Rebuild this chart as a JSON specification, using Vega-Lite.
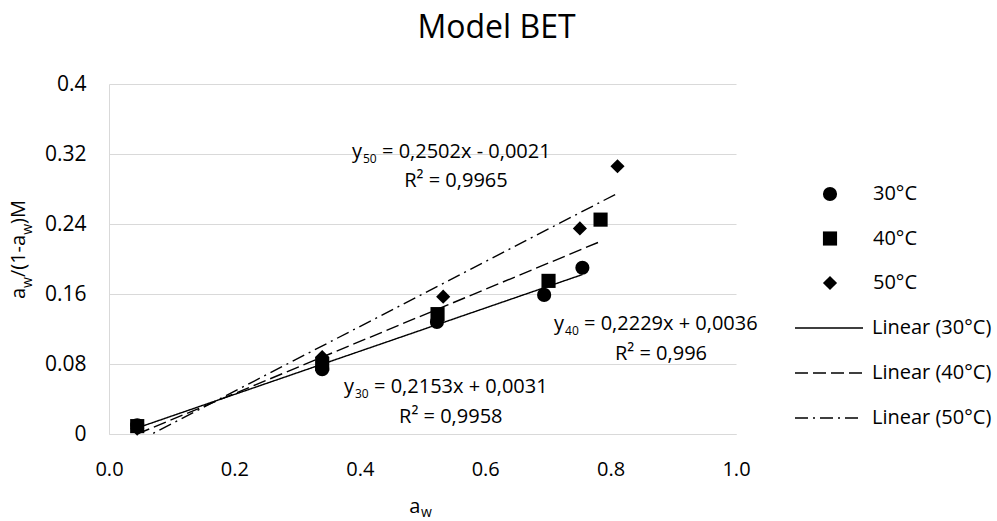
{
  "$schema": "https://vega.github.io/schema/vega-lite/v6.json",
  "width": 627,
  "height": 350,
  "autosize": {"type": "none"},
  "padding": {"left": 109, "top": 84, "right": 261, "bottom": 87},
  "background": "white",
  "config": {
    "font": "Open Sans",
    "view": {"stroke": null},
    "text": {"font": "Open Sans", "fontSize": 20, "color": "black", "align": "left", "baseline": "alphabetic"}
  },
  "title": {
    "text": "Model BET",
    "font": "Open Sans",
    "fontSize": 32,
    "fontWeight": "normal",
    "color": "black",
    "anchor": "middle",
    "baseline": "alphabetic",
    "dx": 74,
    "offset": 3
  },
  "datasets": {
    "sorption": [
      {"series": "30°C", "fit": "Linear (30°C)", "aw": 0.045, "ratio": 0.010},
      {"series": "30°C", "fit": "Linear (30°C)", "aw": 0.340, "ratio": 0.074},
      {"series": "30°C", "fit": "Linear (30°C)", "aw": 0.523, "ratio": 0.128},
      {"series": "30°C", "fit": "Linear (30°C)", "aw": 0.694, "ratio": 0.159},
      {"series": "30°C", "fit": "Linear (30°C)", "aw": 0.755, "ratio": 0.190},
      {"series": "40°C", "fit": "Linear (40°C)", "aw": 0.045, "ratio": 0.009},
      {"series": "40°C", "fit": "Linear (40°C)", "aw": 0.340, "ratio": 0.080},
      {"series": "40°C", "fit": "Linear (40°C)", "aw": 0.524, "ratio": 0.137},
      {"series": "40°C", "fit": "Linear (40°C)", "aw": 0.701, "ratio": 0.175},
      {"series": "40°C", "fit": "Linear (40°C)", "aw": 0.784, "ratio": 0.245},
      {"series": "50°C", "fit": "Linear (50°C)", "aw": 0.045, "ratio": 0.006},
      {"series": "50°C", "fit": "Linear (50°C)", "aw": 0.340, "ratio": 0.088},
      {"series": "50°C", "fit": "Linear (50°C)", "aw": 0.533, "ratio": 0.157},
      {"series": "50°C", "fit": "Linear (50°C)", "aw": 0.751, "ratio": 0.235},
      {"series": "50°C", "fit": "Linear (50°C)", "aw": 0.811, "ratio": 0.306}
    ]
  },
  "layer": [
    {
      "data": {"name": "sorption"},
      "transform": [{"regression": "ratio", "on": "aw", "groupby": ["fit"]}],
      "mark": {"type": "line", "color": "black", "strokeWidth": 1.4, "clip": true},
      "encoding": {
        "x": {
          "field": "aw", "type": "quantitative",
          "scale": {"domain": [0, 1], "nice": false},
          "axis": {
            "title": null, "values": [0, 0.2, 0.4, 0.6, 0.8, 1], "format": ".1f",
            "grid": false, "ticks": false, "tickSize": 0, "labelFlush": false,
            "domainColor": "#d9d9d9", "domainWidth": 1,
            "labelFont": "Open Sans", "labelFontSize": 20, "labelColor": "black", "labelPadding": 25
          }
        },
        "y": {
          "field": "ratio", "type": "quantitative",
          "scale": {"domain": [0, 0.4], "nice": false},
          "axis": {
            "title": null, "values": [0, 0.08, 0.16, 0.24, 0.32, 0.4], "format": "~g",
            "grid": true, "gridColor": "#d9d9d9", "gridWidth": 1,
            "ticks": false, "tickSize": 0, "labelFlush": false,
            "domainColor": "#d9d9d9", "domainWidth": 1,
            "labelFont": "Open Sans", "labelFontSize": 21, "labelColor": "black", "labelPadding": 23
          }
        },
        "strokeDash": {
          "field": "fit", "type": "nominal",
          "scale": {
            "domain": ["Linear (30°C)", "Linear (40°C)", "Linear (50°C)"],
            "range": [[1, 0], [13, 5], [13, 5, 2, 5]]
          },
          "legend": {
            "orient": "none", "legendX": 685, "legendY": 209,
            "title": null, "padding": 0,
            "symbolType": "stroke", "symbolSize": 4624,
            "symbolStrokeColor": "black", "symbolStrokeWidth": 1.4,
            "labelFont": "Open Sans", "labelFontSize": 20, "labelColor": "black",
            "labelOffset": 8, "rowPadding": 0
          }
        }
      }
    },
    {
      "data": {"name": "sorption"},
      "mark": {"type": "point", "filled": true, "opacity": 1, "color": "black", "size": 200},
      "encoding": {
        "x": {"field": "aw", "type": "quantitative"},
        "y": {"field": "ratio", "type": "quantitative"},
        "shape": {
          "field": "series", "type": "nominal",
          "scale": {"domain": ["30°C", "40°C", "50°C"], "range": ["circle", "square", "diamond"]},
          "legend": {
            "orient": "none", "legendX": 711, "legendY": 100,
            "title": null, "padding": 0,
            "symbolSize": 200, "symbolFillColor": "black", "symbolStrokeWidth": 0,
            "labelFont": "Open Sans", "labelFontSize": 20, "labelColor": "black",
            "labelOffset": 33, "rowPadding": 24.5
          }
        }
      }
    },
    {"data": {"values": [{}]}, "mark": {"type": "text", "text": "y"}, "encoding": {"x": {"datum": 0.3876}, "y": {"datum": 0.3154}}},
    {"data": {"values": [{}]}, "mark": {"type": "text", "text": "50", "fontSize": 12}, "encoding": {"x": {"datum": 0.4051}, "y": {"datum": 0.3097}}},
    {"data": {"values": [{}]}, "mark": {"type": "text", "text": "= 0,2502x - 0,0021"}, "encoding": {"x": {"datum": 0.4354}, "y": {"datum": 0.3154}}},
    {"data": {"values": [{}]}, "mark": {"type": "text", "text": "R² = 0,9965", "align": "center"}, "encoding": {"x": {"datum": 0.5534}, "y": {"datum": 0.2823}}},
    {"data": {"values": [{}]}, "mark": {"type": "text", "text": "y"}, "encoding": {"x": {"datum": 0.7097}, "y": {"datum": 0.1189}}},
    {"data": {"values": [{}]}, "mark": {"type": "text", "text": "40", "fontSize": 12}, "encoding": {"x": {"datum": 0.7273}, "y": {"datum": 0.1131}}},
    {"data": {"values": [{}]}, "mark": {"type": "text", "text": "= 0,2229x + 0,0036"}, "encoding": {"x": {"datum": 0.7576}, "y": {"datum": 0.1189}}},
    {"data": {"values": [{}]}, "mark": {"type": "text", "text": "R² = 0,996", "align": "center"}, "encoding": {"x": {"datum": 0.8804}, "y": {"datum": 0.0846}}},
    {"data": {"values": [{}]}, "mark": {"type": "text", "text": "y"}, "encoding": {"x": {"datum": 0.3748}, "y": {"datum": 0.0469}}},
    {"data": {"values": [{}]}, "mark": {"type": "text", "text": "30", "fontSize": 12}, "encoding": {"x": {"datum": 0.3923}, "y": {"datum": 0.0411}}},
    {"data": {"values": [{}]}, "mark": {"type": "text", "text": "= 0,2153x + 0,0031"}, "encoding": {"x": {"datum": 0.4227}, "y": {"datum": 0.0469}}},
    {"data": {"values": [{}]}, "mark": {"type": "text", "text": "R² = 0,9958", "align": "center"}, "encoding": {"x": {"datum": 0.5451}, "y": {"datum": 0.0126}}},
    {"data": {"values": [{}]}, "mark": {"type": "text", "text": "a"}, "encoding": {"x": {"datum": 0.479}, "y": {"datum": -0.0903}}},
    {"data": {"values": [{}]}, "mark": {"type": "text", "text": "w", "fontSize": 14}, "encoding": {"x": {"datum": 0.4976}, "y": {"datum": -0.0949}}},
    {"data": {"values": [{}]}, "mark": {"type": "text", "text": "a", "angle": 270}, "encoding": {"x": {"datum": -0.134}, "y": {"datum": 0.15429}}},
    {"data": {"values": [{}]}, "mark": {"type": "text", "text": "w", "angle": 270, "fontSize": 14}, "encoding": {"x": {"datum": -0.1228}, "y": {"datum": 0.16697}}},
    {"data": {"values": [{}]}, "mark": {"type": "text", "text": "/(1-a", "angle": 270}, "encoding": {"x": {"datum": -0.134}, "y": {"datum": 0.17931}}},
    {"data": {"values": [{}]}, "mark": {"type": "text", "text": "w", "angle": 270, "fontSize": 14}, "encoding": {"x": {"datum": -0.1228}, "y": {"datum": 0.22766}}},
    {"data": {"values": [{}]}, "mark": {"type": "text", "text": ")M", "angle": 270}, "encoding": {"x": {"datum": -0.134}, "y": {"datum": 0.24}}}
  ]
}
